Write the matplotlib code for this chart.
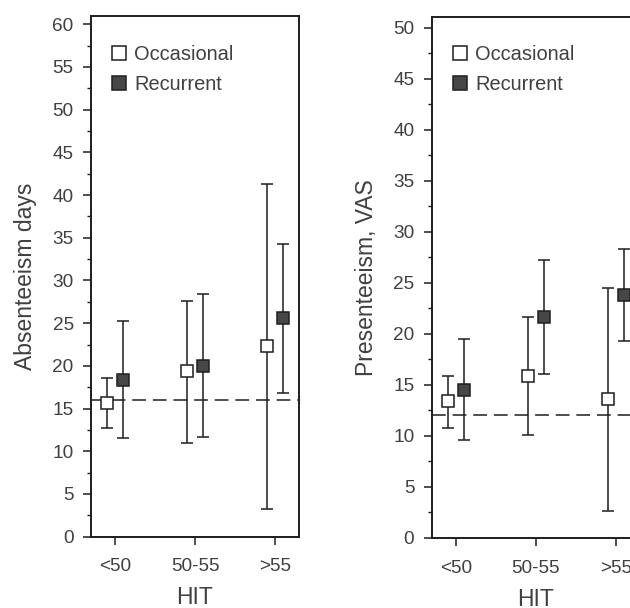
import matplotlib
matplotlib.use("Agg")
import matplotlib.pyplot as plt
from matplotlib.ticker import MultipleLocator
from matplotlib.lines import Line2D
import numpy as np

plt.rcParams['font.family'] = ['Liberation Sans', 'DejaVu Sans']

categories = ["<50", "50-55", ">55"]

# Absenteeism days
abs_occ = [15.7, 19.4, 22.3]
abs_occ_lo = [12.7, 11.0, 3.2]
abs_occ_hi = [18.6, 27.6, 41.3]
abs_rec = [18.3, 20.0, 25.6]
abs_rec_lo = [11.55, 11.7, 16.8]
abs_rec_hi = [25.2, 28.4, 34.3]
abs_ref = 16.0

# Presenteeism, VAS
pre_occ = [13.4, 15.9, 13.6]
pre_occ_lo = [10.8, 10.1, 2.6]
pre_occ_hi = [15.9, 21.6, 24.5]
pre_rec = [14.5, 21.6, 23.8]
pre_rec_lo = [9.6, 16.1, 19.3]
pre_rec_hi = [19.5, 27.2, 28.3]
pre_ref = 12.0

TXT = '#404040'
LC = '#1e1e1e'
fig = plt.figure(figsize=(6.3, 6.08), dpi=100)
W, H = 630, 608


def panel(rect_px, occ, occ_lo, occ_hi, rec, rec_lo, rec_hi, ref, ymax, ytop, ylabel):
    l, t, r, b = rect_px
    ax = fig.add_axes([l / W, 1 - b / H, (r - l) / W, (b - t) / H])
    x = np.arange(len(categories))
    off = 0.1
    occ = np.array(occ); rec = np.array(rec)
    ax.axhline(ref, color=LC, lw=1.1, dashes=(9, 4.5), zorder=1)
    ax.errorbar(x - off, occ, yerr=[occ - np.array(occ_lo), np.array(occ_hi) - occ],
                fmt='s', ms=8.6, mfc='white', mec=LC, mew=1.1,
                ecolor=LC, elinewidth=1.1, capsize=4.6, capthick=1.1, zorder=3)
    ax.errorbar(x + off, rec, yerr=[rec - np.array(rec_lo), np.array(rec_hi) - rec],
                fmt='s', ms=8.6, mfc='#474747', mec=LC, mew=1.1,
                ecolor=LC, elinewidth=1.1, capsize=4.6, capthick=1.1, zorder=3)
    ax.set_xlim(-0.3, 2.3)
    ax.set_ylim(0, ytop)
    ax.set_yticks(np.arange(0, ymax + 1, 5))
    ax.yaxis.set_minor_locator(MultipleLocator(2.5))
    ax.set_xticks(x)
    ax.set_xticklabels(categories)
    ax.tick_params(axis='both', which='major', direction='out', length=5.5, width=1.1,
                   labelsize=13.7, labelcolor=TXT, color=LC, pad=7)
    ax.tick_params(axis='y', which='minor', direction='out', length=2.7, width=1.0, color=LC)
    ax.tick_params(axis='x', pad=10)
    for s in ax.spines.values():
        s.set_linewidth(1.4)
        s.set_color(LC)
    ax.set_xlabel('HIT', fontsize=16.5, color=TXT, labelpad=8)
    ax.set_ylabel(ylabel, fontsize=16.5, color=TXT, labelpad=11)
    return ax


ax1 = panel((91, 15.7, 299, 536.7), abs_occ, abs_occ_lo, abs_occ_hi, abs_rec, abs_rec_lo, abs_rec_hi,
            abs_ref, 60, 61.0, 'Absenteeism days')
ax2 = panel((431.7, 17.3, 639.7, 538), pre_occ, pre_occ_lo, pre_occ_hi, pre_rec, pre_rec_lo, pre_rec_hi,
            pre_ref, 50, 51.0, 'Presenteeism, VAS')


def legend(ax, xpx, ypx):
    h1 = Line2D([], [], ls='none', marker='s', ms=10, mfc='white', mec=LC, mew=1.1)
    h2 = Line2D([], [], ls='none', marker='s', ms=10, mfc='#474747', mec=LC, mew=1.1)
    leg = ax.legend([h1, h2], ['Occasional', 'Recurrent'], loc='upper left',
                    bbox_to_anchor=(xpx / W, 1 - ypx / H), bbox_transform=fig.transFigure,
                    frameon=False, fontsize=14.4, handlelength=0.75, handletextpad=0.4,
                    labelspacing=0.55, borderpad=0, borderaxespad=0)
    for t in leg.get_texts():
        t.set_color(TXT)


legend(ax1, 111, 45)
legend(ax2, 452, 45)

fig.savefig('out.png', dpi=100)
